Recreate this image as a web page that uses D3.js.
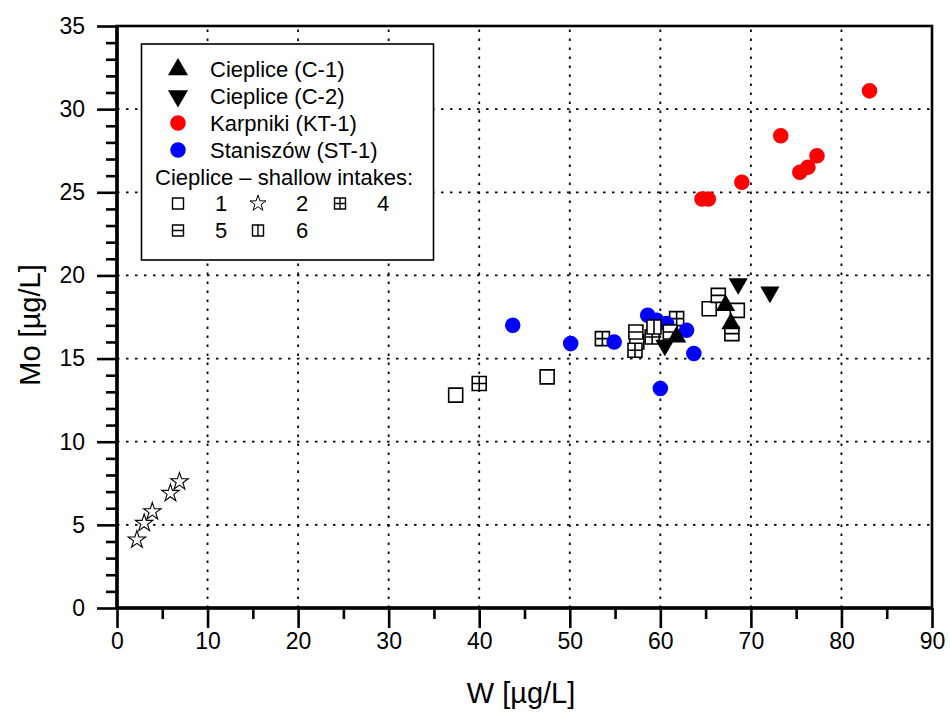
<!DOCTYPE html>
<html><head><meta charset="utf-8">
<script src="https://cdn.jsdelivr.net/npm/d3@7"></script>
<style>body{margin:0;background:#fff}svg{display:block}text{font-family:"Liberation Sans",Arial,sans-serif;fill:#000}</style>
</head><body><svg id="c" width="950" height="720"></svg>
<script>
// ---- data: [W, Mo] pairs ----
const c1 = [[67.2,18.2],[67.8,17.1],[61.8,16.3]];
const c2 = [[68.6,19.5],[72.1,19.0],[60.5,15.8]];
const karpniki = [[83.1,31.1],[73.3,28.4],[77.3,27.2],[76.3,26.5],[75.4,26.2],[69.0,25.6],[64.6,24.6],[65.3,24.6]];
const staniszow = [[43.7,17.0],[50.1,15.9],[54.9,16.0],[58.6,17.6],[59.6,17.3],[60.7,17.1],[62.9,16.7],[63.7,15.3],[60.0,13.2]];
const shallow1 = [[37.4,12.8],[47.5,13.9],[65.4,18.0],[68.5,17.9],[57.4,16.0]];
const shallow2 = [[6.9,7.6],[5.9,6.9],[3.9,5.8],[3.0,5.1],[2.2,4.1]];
const shallow4 = [[40.0,13.5],[53.6,16.2],[59.1,16.3],[61.8,17.4],[57.2,15.5]];
const shallow5 = [[57.3,16.6],[66.4,18.8],[67.9,16.5],[61.1,16.6]];
const shallow6 = [[59.3,16.9]];
const xTicks = [0,10,20,30,40,50,60,70,80,90];
const yTicks = [0,5,10,15,20,25,30,35];
const legendMain = ["Cieplice (C-1)","Cieplice (C-2)","Karpniki (KT-1)","Staniszów (ST-1)"];
const legendSubTitle = "Cieplice – shallow intakes:";
const legendSub = ["1","2","4","5","6"];

const svg = d3.select("#c");
const L=117,R=932,T=26,B=608;
const x = d3.scaleLinear().domain([0,90]).range([L,R]);
const y = d3.scaleLinear().domain([0,35]).range([B,T]);

// grid
const g = svg.append("g");
g.selectAll(".gx").data(xTicks.filter(d=>d>0&&d<90)).join("line")
  .attr("x1",d=>x(d)).attr("x2",d=>x(d)).attr("y1",B).attr("y2",T)
  .attr("stroke","#000").attr("stroke-width",1.8).attr("stroke-dasharray","2.5,6.5");
g.selectAll(".gy").data(yTicks.filter(d=>d>0&&d<35)).join("line")
  .attr("y1",d=>y(d)).attr("y2",d=>y(d)).attr("x1",L).attr("x2",R)
  .attr("stroke","#000").attr("stroke-width",1.8).attr("stroke-dasharray","2.5,6.5");

// symbol paths
function sqPath(s, kind){
  const h=s/2;
  let p=`M${-h},${-h}H${h}V${h}H${-h}Z`;
  if(kind===4) p+=`M${-h},0H${h}M0,${-h}V${h}`;
  if(kind===5) p+=`M${-h},0H${h}`;
  if(kind===6) p+=`M0,${-h}V${h}`;
  return p;
}
const triUp = d3.symbol(d3.symbolTriangle, 160)();
const circ = d3.symbol(d3.symbolCircle, 190)();
const star = d3.symbol(d3.symbolStar, 95)();

function plot(data, path, opts){
  svg.append("g").selectAll("path").data(data).join("path")
    .attr("d",path)
    .attr("transform",d=>`translate(${x(d[0])},${y(d[1])})${opts.rot?" rotate(180)":""}`)
    .attr("fill",opts.fill).attr("stroke",opts.stroke||"none").attr("stroke-width",opts.sw||0);
}
plot(shallow1, sqPath(14,1), {fill:"#fff",stroke:"#000",sw:1.6});
plot(shallow2, star, {fill:"#fff",stroke:"#000",sw:1.1});
plot(shallow4, sqPath(14,4), {fill:"#fff",stroke:"#000",sw:1.6});
plot(staniszow, circ, {fill:"#0000ff"});
plot(karpniki, circ, {fill:"#ff0000"});
plot(shallow5, sqPath(14,5), {fill:"#fff",stroke:"#000",sw:1.6});
plot(shallow6, sqPath(14,6), {fill:"#fff",stroke:"#000",sw:1.6});
plot(c1, triUp, {fill:"#000"});
plot(c2, triUp, {fill:"#000",rot:true});

// axes
svg.append("g").attr("transform",`translate(0,${B})`)
  .call(d3.axisBottom(x).tickValues(xTicks).tickSize(20).tickPadding(5).tickFormat(d3.format("d")));
svg.append("g").attr("transform",`translate(0,${B})`)
  .call(d3.axisBottom(x).tickValues(d3.range(5,90,10)).tickSize(11).tickFormat(""))
  .call(a=>a.select(".domain").remove());
svg.append("g").attr("transform",`translate(${L},0)`)
  .call(d3.axisLeft(y).tickValues(yTicks).tickSize(20).tickPadding(12).tickFormat(d3.format("d")));
svg.append("g").attr("transform",`translate(${L},0)`)
  .call(d3.axisLeft(y).tickValues(d3.range(0,36,1).filter(v=>v%5!==0)).tickSize(11).tickFormat(""))
  .call(a=>a.select(".domain").remove());
svg.selectAll(".tick line").attr("stroke","#000").attr("stroke-width",2.6);
svg.selectAll(".domain").attr("stroke","none");
svg.selectAll(".tick text").attr("font-size",23).attr("font-family","Liberation Sans, Arial, sans-serif").attr("fill","#111");

// frame
svg.append("rect").attr("x",L).attr("y",T).attr("width",R-L).attr("height",B-T)
  .attr("fill","none").attr("stroke","#000").attr("stroke-width",2.6);
svg.append("line").attr("x1",L).attr("x2",L).attr("y1",T-1).attr("y2",B+1).attr("stroke","#000").attr("stroke-width",3.6);
svg.append("line").attr("x1",L-1).attr("x2",R+1).attr("y1",B).attr("y2",B).attr("stroke","#000").attr("stroke-width",3.6);

// titles
svg.append("text").attr("x",521).attr("y",703).attr("text-anchor","middle").attr("font-size",29).text("W [µg/L]");
svg.append("text").attr("transform",`translate(40,${325}) rotate(-90)`).attr("text-anchor","middle").attr("font-size",29).text("Mo [µg/L]");

// legend
const lg = svg.append("g");
lg.append("rect").attr("x",141.5).attr("y",44).attr("width",292).attr("height",216)
  .attr("fill","#fff").attr("stroke","#000").attr("stroke-width",1.6);
const rowsY=[69.5,96,123,150];
const symX=178, txtX=210;
lg.append("path").attr("d",d3.symbol(d3.symbolTriangle,175)()).attr("transform",`translate(${symX},${rowsY[0]})`).attr("fill","#000");
lg.append("path").attr("d",d3.symbol(d3.symbolTriangle,175)()).attr("transform",`translate(${symX},${rowsY[1]}) rotate(180)`).attr("fill","#000");
lg.append("path").attr("d",circ).attr("transform",`translate(${symX},${rowsY[2]})`).attr("fill","#ff0000");
lg.append("path").attr("d",circ).attr("transform",`translate(${symX},${rowsY[3]})`).attr("fill","#0000ff");
legendMain.forEach((t,i)=>lg.append("text").attr("x",txtX).attr("y",rowsY[i]).attr("dy","0.36em").attr("font-size",22).text(t));
lg.append("text").attr("x",155).attr("y",177).attr("dy","0.36em").attr("font-size",22).text(legendSubTitle);
const subPos=[[178,215,203.5],[258,296,203.5],[340,377,203.5],[178,215,230.5],[258,296,230.5]];
const subSyms=[sqPath(11,1), d3.symbol(d3.symbolStar,80)(), sqPath(11,4), sqPath(11,5), sqPath(11,6)];
legendSub.forEach((t,i)=>{
  const [sx,tx,yy]=subPos[i];
  lg.append("path").attr("d",subSyms[i]).attr("transform",`translate(${sx},${yy})`)
    .attr("fill","#fff").attr("stroke","#000").attr("stroke-width",i===1?1:1.4);
  lg.append("text").attr("x",tx).attr("y",yy).attr("dy","0.36em").attr("font-size",22).text(t);
});
</script></body></html>
